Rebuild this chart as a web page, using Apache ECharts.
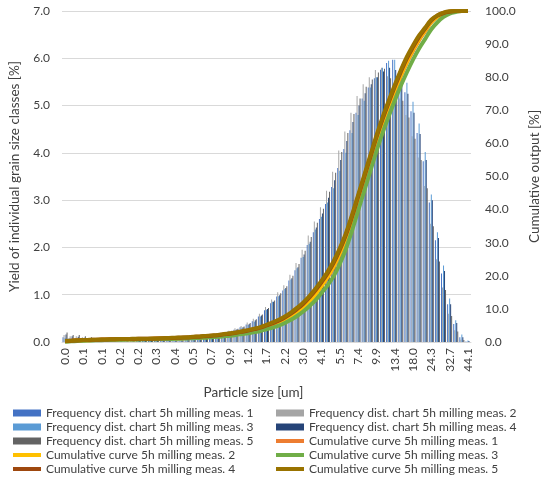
<!DOCTYPE html>
<html>
<head>
<meta charset="utf-8">
<script src="https://cdn.jsdelivr.net/npm/echarts@6.0.0/dist/echarts.min.js"></script>
<style>
html,body{margin:0;padding:0;background:#fff;}
#chart{width:550px;height:483px;}
</style>
</head>
<body>
<div id="chart"></div>
<script>
// Particle size classes [um]
const categories = ["0.0","0.1","0.1","0.1","0.1","0.1","0.1","0.1","0.1","0.2",
"0.2","0.2","0.2","0.2","0.3","0.3","0.3","0.3","0.4","0.4",
"0.5","0.5","0.6","0.6","0.7","0.7","0.8","0.9","1.0","1.1",
"1.2","1.3","1.5","1.7","1.8","2.0","2.2","2.5","2.7","3.0",
"3.3","3.7","4.1","4.5","4.9","5.5","6.0","6.7","7.4","8.1",
"9.0","9.9","11.0","12.1","13.4","14.8","16.3","18.0","19.9","22.0",
"24.3","26.8","29.6","32.7","36.2","39.9","44.1"];

const freqNames = [
  "Frequency dist. chart 5h milling meas. 1",
  "Frequency dist. chart 5h milling meas. 2",
  "Frequency dist. chart 5h milling meas. 3",
  "Frequency dist. chart 5h milling meas. 4",
  "Frequency dist. chart 5h milling meas. 5"];
const cumNames = [
  "Cumulative curve 5h milling meas. 1",
  "Cumulative curve 5h milling meas. 2",
  "Cumulative curve 5h milling meas. 3",
  "Cumulative curve 5h milling meas. 4",
  "Cumulative curve 5h milling meas. 5"];

// Frequency distribution [%]
const freq1 = [0.10,0.08,0.08,0.06,0.05,0.04,0.03,0.03,0.02,0.02,
0.02,0.02,0.02,0.02,0.02,0.03,0.03,0.03,0.04,0.04,
0.05,0.06,0.08,0.10,0.12,0.15,0.18,0.22,0.26,0.31,
0.37,0.44,0.54,0.67,0.82,0.96,1.09,1.30,1.52,1.78,
2.05,2.32,2.60,2.92,3.28,3.68,4.08,4.48,4.85,5.15,
5.38,5.58,5.76,5.90,5.97,5.62,5.28,4.88,4.42,3.82,
2.95,2.15,1.45,0.80,0.38,0.10,0.01];
const freq2 = [0.15,0.12,0.12,0.10,0.08,0.06,0.05,0.04,0.04,0.03,
0.03,0.03,0.03,0.03,0.04,0.04,0.04,0.05,0.05,0.06,
0.06,0.07,0.09,0.11,0.14,0.17,0.20,0.24,0.29,0.34,
0.41,0.49,0.60,0.74,0.90,1.05,1.20,1.42,1.67,1.95,
2.25,2.55,2.85,3.20,3.60,4.05,4.45,4.85,5.20,5.45,
5.60,5.75,5.80,5.62,5.40,5.15,4.80,4.35,3.90,3.30,
2.50,1.75,1.15,0.60,0.25,0.05,0.00];
const freq3 = [0.08,0.07,0.06,0.05,0.04,0.04,0.03,0.02,0.02,0.02,
0.02,0.02,0.02,0.02,0.02,0.02,0.03,0.03,0.03,0.04,
0.04,0.05,0.07,0.08,0.11,0.14,0.17,0.20,0.25,0.30,
0.36,0.43,0.54,0.68,0.85,0.97,1.12,1.32,1.56,1.80,
2.08,2.38,2.65,2.95,3.25,3.62,4.00,4.42,4.80,5.10,
5.38,5.60,5.80,5.95,5.97,5.78,5.48,5.08,4.62,4.02,
3.12,2.32,1.62,0.92,0.46,0.16,0.03];
const freq4 = [0.16,0.12,0.11,0.09,0.07,0.05,0.04,0.03,0.03,0.03,
0.02,0.02,0.02,0.03,0.03,0.03,0.03,0.04,0.04,0.05,
0.05,0.06,0.08,0.10,0.12,0.15,0.18,0.22,0.27,0.31,
0.38,0.46,0.56,0.70,0.85,0.99,1.14,1.35,1.58,1.85,
2.12,2.42,2.72,3.05,3.42,3.85,4.25,4.65,5.00,5.26,
5.45,5.60,5.72,5.80,5.75,5.55,5.25,4.85,4.40,3.85,
3.00,2.20,1.50,0.80,0.40,0.10,0.02];
const freq5 = [0.20,0.15,0.15,0.12,0.10,0.08,0.06,0.05,0.04,0.04,
0.03,0.03,0.03,0.03,0.04,0.04,0.04,0.05,0.05,0.06,
0.06,0.07,0.09,0.11,0.14,0.17,0.20,0.24,0.28,0.33,
0.40,0.48,0.58,0.72,0.88,1.03,1.18,1.40,1.65,1.93,
2.22,2.52,2.82,3.18,3.58,4.02,4.42,4.82,5.15,5.40,
5.55,5.70,5.78,5.58,5.35,5.10,4.75,4.30,3.85,3.25,
2.45,1.70,1.10,0.55,0.22,0.04,0.00];

// Cumulative output [%]
const cum1 = [0.2,0.3,0.4,0.5,0.55,0.6,0.65,0.7,0.75,0.8,
0.82,0.85,0.88,0.9,0.93,0.96,1.0,1.05,1.1,1.17,
1.25,1.35,1.45,1.55,1.7,1.85,2.05,2.25,2.5,2.8,
3.1,3.5,3.9,4.5,5.1,5.8,6.7,7.8,9.1,10.6,
12.4,14.5,16.9,19.5,22.6,26.5,31.0,36.5,42.5,48.5,
54.5,60.5,66.0,71.0,75.8,80.3,84.4,88.0,91.2,93.9,
96.6,98.2,99.2,99.7,99.9,100,100];
const cum2 = [0.2,0.3,0.4,0.5,0.55,0.6,0.65,0.7,0.75,0.8,
0.82,0.85,0.88,0.9,0.93,0.96,0.98,1.02,1.06,1.12,
1.18,1.27,1.35,1.44,1.57,1.7,1.88,2.06,2.3,2.58,
2.87,3.25,3.63,4.2,4.78,5.45,6.33,7.4,8.7,10.25,
12.1,14.3,16.9,19.7,22.9,26.9,31.4,36.9,42.9,48.9,
54.9,60.9,66.4,71.4,76.2,80.7,84.8,88.4,91.6,94.2,
96.8,98.3,99.3,99.8,100,100,100];
const cum3 = [0.1,0.2,0.3,0.4,0.45,0.5,0.55,0.6,0.65,0.7,
0.72,0.75,0.78,0.8,0.83,0.86,0.88,0.92,0.96,1.02,
1.08,1.16,1.24,1.32,1.45,1.58,1.75,1.92,2.14,2.4,
2.66,3.0,3.34,3.86,4.36,4.96,5.75,6.7,7.85,9.2,
10.8,12.6,14.8,17.1,19.9,23.6,28.1,33.6,39.6,45.6,
51.6,57.6,63.1,68.1,72.9,77.4,81.5,85.3,88.7,91.6,
94.5,96.6,98.2,99.2,99.7,100,100];
const cum4 = [0.27,0.37,0.47,0.57,0.62,0.67,0.72,0.77,0.82,0.87,
0.89,0.92,0.95,0.97,1.0,1.03,1.1,1.15,1.24,1.31,
1.39,1.52,1.62,1.76,1.91,2.06,2.3,2.52,2.78,3.1,
3.45,3.88,4.32,5.0,5.65,6.43,7.4,8.57,9.94,11.5,
13.4,15.55,18.0,20.7,23.9,27.8,32.3,37.8,43.8,49.8,
55.8,61.8,67.3,72.3,77.1,81.6,85.7,89.1,92.2,94.7,
97.2,98.6,99.4,99.8,100,100,100];
const cum5 = [0.3,0.4,0.5,0.6,0.65,0.7,0.75,0.8,0.85,0.9,
0.92,0.95,0.98,1.0,1.03,1.06,1.15,1.2,1.3,1.37,
1.45,1.6,1.7,1.85,2.0,2.15,2.4,2.65,2.9,3.25,
3.6,4.05,4.5,5.2,5.9,6.7,7.7,8.9,10.3,11.9,
13.8,16.0,18.5,21.2,24.4,28.3,32.8,38.3,44.3,50.3,
56.3,62.3,67.8,72.8,77.6,82.1,86.2,89.6,92.6,95.0,
97.4,98.7,99.5,99.9,100,100,100];

const freqData = [freq1, freq2, freq3, freq4, freq5];
const cumData = [cum1, cum2, cum3, cum4, cum5];
const freqColors = ["#4472C4", "#A5A5A5", "#5B9BD5", "#264478", "#636363"];
const cumColors = ["#ED7D31", "#FFC000", "#70AD47", "#9E480E", "#997300"];

const FONT = "Lato, 'Open Sans', sans-serif";
const TXT = "#404040";

const series = [];
freqData.forEach((d, k) => {
  series.push({
    name: freqNames[k], type: "bar", yAxisIndex: 0, data: d,
    itemStyle: { color: freqColors[k] },
    barGap: "0%", barCategoryGap: "20%",
    animation: false
  });
});
cumData.forEach((d, k) => {
  series.push({
    name: cumNames[k], type: "line", yAxisIndex: 1, data: d,
    smooth: 0.4, symbol: "none", z: 5,
    lineStyle: { color: cumColors[k], width: 4 },
    itemStyle: { color: cumColors[k] },
    animation: false
  });
});

const lineIcon = "path://M0,0L28,0L28,4L0,4Z";
function legendItem(name) {
  const isLine = cumNames.indexOf(name) >= 0;
  return { name: name, icon: isLine ? lineIcon : "rect" };
}
const leftLegend = [freqNames[0], freqNames[2], freqNames[4], cumNames[1], cumNames[3]].map(legendItem);
const rightLegend = [freqNames[1], freqNames[3], cumNames[0], cumNames[2], cumNames[4]].map(legendItem);

const legendBase = {
  orient: "vertical", top: 406, height: 75, padding: 0,
  itemWidth: 28, itemHeight: 7, itemGap: 0,
  selectedMode: false,
  textStyle: { fontFamily: FONT, fontSize: 12, color: TXT, lineHeight: 14 }
};

const chart = echarts.init(document.getElementById("chart"), null, { renderer: "canvas" });
chart.setOption({
  animation: false,
  backgroundColor: "#fff",
  textStyle: { fontFamily: FONT },
  grid: { left: 55, right: 67, top: 11, bottom: 141, containLabel: false },
  legend: [
    Object.assign({}, legendBase, { left: 13, data: leftLegend }),
    Object.assign({}, legendBase, { left: 276, data: rightLegend })
  ],
  xAxis: {
    type: "category", data: categories, dedplication: false,
    boundaryGap: true,
    name: "Particle size [um]", nameLocation: "middle", nameGap: 44,
    nameTextStyle: { fontFamily: FONT, fontSize: 13.5, color: TXT, padding: [0, 26, 0, 0] },
    axisLine: { show: true, lineStyle: { color: "#D9D9D9", width: 1 } },
    axisTick: { show: false },
    axisLabel: { interval: 2, rotate: 90, margin: 6, fontFamily: FONT, fontSize: 12, color: TXT },
    splitLine: { show: false }
  },
  yAxis: [
    {
      type: "value", min: 0, max: 7, interval: 1, position: "left",
      name: "Yield of individual grain size classes [%]", nameLocation: "middle", nameGap: 40, nameRotate: 90,
      nameTextStyle: { fontFamily: FONT, fontSize: 13.5, color: TXT },
      axisLine: { show: false }, axisTick: { show: false },
      axisLabel: { margin: 12, fontFamily: FONT, fontSize: 12, color: TXT, formatter: v => v.toFixed(1) },
      splitLine: { show: true, lineStyle: { color: "#D9D9D9", width: 1 } }
    },
    {
      type: "value", min: 0, max: 100, interval: 10, position: "right",
      name: "Cumulative output [%]", nameLocation: "middle", nameGap: 57, nameRotate: 90,
      nameTextStyle: { fontFamily: FONT, fontSize: 13.5, color: TXT },
      axisLine: { show: false }, axisTick: { show: false },
      axisLabel: { margin: 14, fontFamily: FONT, fontSize: 12, color: TXT, formatter: v => v.toFixed(1) },
      splitLine: { show: false }
    }
  ],
  series: series
});
</script>
</body>
</html>
